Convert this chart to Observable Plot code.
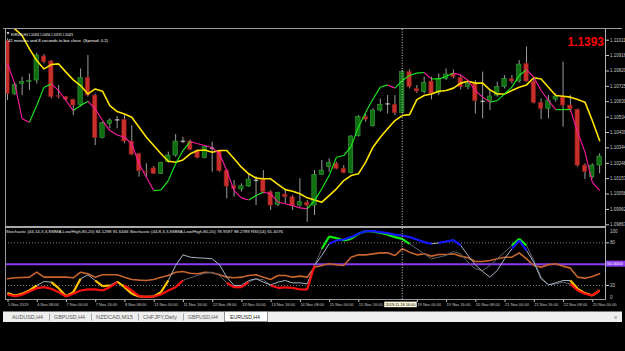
<!DOCTYPE html>
<html><head><meta charset="utf-8">
<script src="https://cdn.jsdelivr.net/npm/d3@7"></script>
<script src="https://cdn.jsdelivr.net/npm/@observablehq/plot@0.6"></script>
<style>
html,body{margin:0;padding:0;background:#000;}
#root{position:relative;width:625px;height:351px;background:#000;overflow:hidden;font-family:"Liberation Sans",Arial,sans-serif;}
#root svg{position:absolute;left:0;}
</style></head><body><div id="root"></div>
<script>
// ---------- data ----------
const opens=[1.11005,1.10678,1.10740,1.10753,1.10761,1.10910,1.10879,1.10664,1.10658,1.10641,1.10610,1.10778,1.10668,1.10406,1.10492,1.10515,1.10517,1.10383,1.10307,1.10195,1.10217,1.10183,1.10255,1.10296,1.10383,1.10383,1.10327,1.10282,1.10344,1.10323,1.10203,1.10106,1.10086,1.10104,1.10145,1.10147,1.10069,1.09990,1.10054,1.10038,1.09986,1.10003,1.09986,1.10176,1.10224,1.10245,1.10214,1.10187,1.10416,1.10534,1.10478,1.10575,1.10614,1.10610,1.10561,1.10813,1.10709,1.10689,1.10755,1.10683,1.10771,1.10802,1.10778,1.10720,1.10740,1.10635,1.10633,1.10668,1.10720,1.10769,1.10755,1.10864,1.10755,1.10623,1.10585,1.10643,1.10658,1.10606,1.10579,1.10234,1.10162,1.10234];
const highs=[1.11019,1.10745,1.10782,1.10802,1.10930,1.10922,1.10885,1.10730,1.10662,1.10647,1.10833,1.10916,1.10678,1.10503,1.10524,1.10538,1.10544,1.10482,1.10311,1.10245,1.10228,1.10255,1.10317,1.10426,1.10410,1.10393,1.10331,1.10352,1.10379,1.10327,1.10207,1.10141,1.10121,1.10183,1.10166,1.10203,1.10079,1.10069,1.10079,1.10048,1.10152,1.10017,1.10203,1.10265,1.10276,1.10255,1.10234,1.10420,1.10544,1.10550,1.10585,1.10647,1.10668,1.10668,1.10823,1.10827,1.10730,1.10782,1.10782,1.10802,1.10833,1.10827,1.10792,1.10761,1.10761,1.10813,1.10699,1.10751,1.10792,1.10792,1.10885,1.10968,1.10782,1.10647,1.10668,1.10678,1.10875,1.10668,1.10585,1.10245,1.10245,1.10307];
const lows=[1.10637,1.10668,1.10668,1.10699,1.10740,1.10864,1.10647,1.10647,1.10633,1.10544,1.10596,1.10658,1.10358,1.10400,1.10462,1.10462,1.10369,1.10296,1.10162,1.10162,1.10178,1.10178,1.10249,1.10286,1.10369,1.10327,1.10276,1.10276,1.10193,1.10193,1.10028,1.10038,1.10069,1.10100,1.09986,1.10059,1.09955,1.09980,1.09997,1.09955,1.09976,1.09883,1.09924,1.10172,1.10193,1.10207,1.10183,1.10183,1.10410,1.10503,1.10472,1.10565,1.10554,1.10544,1.10554,1.10709,1.10683,1.10678,1.10641,1.10668,1.10761,1.10771,1.10703,1.10703,1.10554,1.10524,1.10575,1.10658,1.10709,1.10740,1.10745,1.10751,1.10616,1.10519,1.10524,1.10627,1.10472,1.10565,1.10224,1.10147,1.10152,1.10183];
const closes=[1.10678,1.10734,1.10751,1.10757,1.10916,1.10875,1.10658,1.10660,1.10641,1.10606,1.10776,1.10668,1.10404,1.10497,1.10513,1.10517,1.10383,1.10302,1.10199,1.10191,1.10183,1.10249,1.10296,1.10383,1.10385,1.10331,1.10282,1.10348,1.10342,1.10199,1.10104,1.10090,1.10106,1.10147,1.10143,1.10069,1.09986,1.10065,1.10038,1.09982,1.10007,1.09986,1.10176,1.10203,1.10249,1.10214,1.10187,1.10414,1.10534,1.10519,1.10575,1.10610,1.10616,1.10559,1.10813,1.10720,1.10693,1.10747,1.10678,1.10771,1.10798,1.10782,1.10720,1.10740,1.10633,1.10633,1.10662,1.10720,1.10771,1.10755,1.10860,1.10755,1.10623,1.10585,1.10637,1.10662,1.10606,1.10581,1.10234,1.10193,1.10234,1.10290];
const maSlow=[1.11133,1.11081,1.11040,1.10957,1.10885,1.10833,1.10860,1.10864,1.10813,1.10765,1.10730,1.10678,1.10709,1.10695,1.10606,1.10569,1.10554,1.10534,1.10472,1.10410,1.10358,1.10307,1.10261,1.10255,1.10269,1.10307,1.10327,1.10331,1.10317,1.10327,1.10327,1.10276,1.10224,1.10183,1.10156,1.10152,1.10152,1.10117,1.10085,1.10075,1.10059,1.10034,1.10021,1.10007,1.10048,1.10090,1.10141,1.10172,1.10183,1.10255,1.10348,1.10410,1.10462,1.10513,1.10544,1.10550,1.10643,1.10668,1.10678,1.10695,1.10699,1.10714,1.10745,1.10757,1.10745,1.10745,1.10703,1.10678,1.10678,1.10699,1.10720,1.10734,1.10778,1.10771,1.10720,1.10668,1.10664,1.10658,1.10643,1.10627,1.10513,1.10389];
const maFast=[1.10864,1.10740,1.10524,1.10503,1.10606,1.10720,1.10740,1.10699,1.10637,1.10575,1.10606,1.10633,1.10585,1.10513,1.10451,1.10424,1.10410,1.10369,1.10245,1.10162,1.10079,1.10083,1.10141,1.10245,1.10327,1.10383,1.10369,1.10358,1.10344,1.10307,1.10203,1.10079,1.10034,1.10021,1.10048,1.10069,1.10059,1.10007,1.09997,1.09986,1.09972,1.09966,1.10017,1.10090,1.10172,1.10286,1.10296,1.10352,1.10472,1.10565,1.10647,1.10720,1.10734,1.10714,1.10761,1.10792,1.10807,1.10811,1.10771,1.10771,1.10786,1.10807,1.10796,1.10761,1.10699,1.10658,1.10627,1.10637,1.10678,1.10720,1.10792,1.10829,1.10782,1.10699,1.10637,1.10581,1.10581,1.10581,1.10441,1.10317,1.10131,1.10079];
const stoch1=[7.3,5.0,6.8,11.5,16.2,17.6,15.3,10.6,4.5,8.3,12.9,14.4,14.4,12.9,17.6,24.7,20.0,12.9,5.0,4.0,4.5,7.3,12.9,17.6,27.0,30.8,34.1,37.3,38.7,34.1,23.7,17.6,17.6,24.7,29.4,28.0,20.0,16.7,17.2,16.7,14.4,14.4,48.1,71.6,88.9,86.6,83.3,85.6,92.7,96.4,96.0,94.1,91.3,88.0,85.6,78.6,71.6,64.5,57.5,59.8,62.2,67.8,64.5,52.8,43.4,41.1,48.1,57.5,66.9,76.3,85.6,76.3,55.2,31.7,20.9,22.3,24.7,22.3,12.9,8.3,5.9,12.9];
const stoch2=[9.2,5.9,8.3,12.9,20.0,25.6,24.7,16.2,5.0,10.6,29.4,35.0,27.0,19.0,20.0,25.6,17.6,8.3,4.5,4.0,4.5,10.6,27.0,48.1,63.1,59.8,58.9,58.4,57.5,49.1,31.7,20.0,20.0,27.0,29.4,24.7,20.9,24.7,27.0,23.7,23.7,22.3,48.1,62.2,78.6,83.3,84.7,88.0,92.7,96.4,96.4,95.0,93.6,91.3,90.3,88.0,84.7,81.0,78.6,80.0,81.9,83.8,76.3,62.2,49.1,39.7,31.7,41.1,57.5,71.6,83.3,69.2,52.8,29.4,20.9,23.7,27.0,27.0,15.3,9.2,5.9,12.9];
const rsi=[29.4,30.8,31.2,31.7,38.7,31.7,31.7,31.7,31.7,30.8,38.7,36.4,31.7,35.0,35.0,35.0,31.7,28.4,27.5,27.0,28.4,31.7,34.1,38.7,39.7,37.3,36.4,38.7,37.8,35.0,31.7,30.8,31.7,34.1,35.0,31.7,28.4,34.1,34.1,31.7,33.1,31.7,45.8,48.1,50.5,49.1,48.1,59.8,63.1,63.1,64.5,65.9,65.9,62.2,71.6,66.9,63.1,64.5,61.3,63.6,63.6,64.5,61.3,58.9,53.7,53.7,55.2,57.5,59.8,59.8,65.9,57.5,48.1,45.8,49.1,50.5,47.2,44.4,31.7,30.3,32.6,36.4];
const priceTicks=[1.09867,1.09962,1.10058,1.10153,1.10248,1.10344,1.10439,1.10534,1.10630,1.10725,1.10820,1.10916,1.11011];
const levelTicks=[80,20];
const timeBars=[1,5,9,13,17,21,25,29,33,37,41,45,49,57,61,65,69,73,77,81];
const timeLabels=["5 Nov 2019","6 Nov 08:00","7 Nov 00:00","7 Nov 16:00","8 Nov 08:00","11 Nov 00:00","11 Nov 16:00","12 Nov 08:00","13 Nov 00:00","13 Nov 16:00","14 Nov 08:00","15 Nov 00:00","15 Nov 16:00","19 Nov 00:00","19 Nov 16:00","20 Nov 08:00","21 Nov 00:00","21 Nov 16:00","22 Nov 08:00","25 Nov 00:00"];
const cursorBar=55;
const cursorLabel="2019.11.18 16:00";
const tabs=["AUDUSD,H4","GBPUSD,H4","NZDCAD,M15","CHFJPY,Daily","GBPUSD,H4","EURUSD,H4"];
const titleLine1="EURUSD,H4  1.10434 1.10454 1.10370 1.10425";
const titleLine2="42 minutes and 8 seconds to bar close. (Spread: 0.2)";
const indHeader="Stochastic (44,14,3,3,SMMA,Low/High,80,20) 84.1298 91.6446  Stochastic (44,8,3,3,SMMA,Low/High,80,20) 78.9597 88.2789  RSI(14) 65.4076";
const bigPrice="1.1393";

// ---------- build ----------
const n=opens.length;
const bars=d3.range(n).map(k=>({i:k+1,o:opens[k],h:highs[k],l:lows[k],c:closes[k]}));
const bull=bars.filter(d=>d.c-d.o>0.00004), bear=bars.filter(d=>d.o-d.c>0.00004), doji=bars.filter(d=>Math.abs(d.c-d.o)<=0.00004);
const BW=0.3;
const slow=maSlow.map((v,k)=>({i:k+1,v}));
const segs=arr=>d3.range(arr.length-1).map(k=>({x1:k+1,x2:k+2,y1:arr[k],y2:arr[k+1]}));
const fastSegs=segs(maFast);
const xOpt={domain:[1,82],range:[7,599.1],axis:null};
const root=document.getElementById("root");
const crossStyle={stroke:"#cfcfcf",strokeWidth:1,strokeDasharray:"1,1.6"};

const main=Plot.plot({
  width:625,height:200,marginLeft:5,marginRight:20,marginTop:2,marginBottom:1,
  style:{background:"transparent",overflow:"visible",fontFamily:"Liberation Sans"},
  x:xOpt,
  y:{domain:[1.09867,1.11011],range:[197.3,12.7]},
  marks:[
    Plot.ruleX(bars,{x:"i",y1:"l",y2:"h",stroke:"#9c9c9c",strokeWidth:1,clip:true}),
    Plot.rect(bull,{x1:d=>d.i-BW,x2:d=>d.i+BW,y1:"o",y2:"c",fill:"#0f6e12",stroke:"#3aa03a",strokeWidth:0.6,clip:true}),
    Plot.rect(bear,{x1:d=>d.i-BW,x2:d=>d.i+BW,y1:"o",y2:"c",fill:"#c8302c",stroke:"#8a1a18",strokeWidth:0.6,clip:true}),
    Plot.link(doji,{x1:d=>d.i-BW,x2:d=>d.i+BW,y1:"c",y2:"c",stroke:"#e0e0e0",strokeWidth:1,clip:true}),
    Plot.line(slow,{x:"i",y:"v",stroke:"#ffe400",strokeWidth:1.6,clip:true}),
    Plot.link(fastSegs.filter(d=>d.y2>=d.y1),{x1:"x1",x2:"x2",y1:"y1",y2:"y2",stroke:"#19f019",strokeWidth:1.1,clip:true}),
    Plot.link(fastSegs.filter(d=>d.y2<d.y1),{x1:"x1",x2:"x2",y1:"y1",y2:"y2",stroke:"#ff1aa3",strokeWidth:1.1,clip:true}),
    Plot.ruleX([cursorBar],{...crossStyle}),
    Plot.axisY(priceTicks,{anchor:"right",tickSize:3,tickPadding:1.5,fontSize:4.5,color:"#c8c8c8",tickFormat:d=>d.toFixed(5)})
  ]
});
main.style.top="27px";
root.appendChild(main);

const s1Hi=segs(stoch1).filter(d=>d.y1>80||d.y2>80);
const s1Lo=segs(stoch1).filter(d=>d.y1<20||d.y2<20);
const s2Hi=segs(stoch2).filter(d=>d.y1>80||d.y2>80);
const s2Lo=segs(stoch2).filter(d=>d.y1<20||d.y2<20);
const toPts=arr=>arr.map((v,k)=>({i:k+1,v}));
const lk=(data,stroke,w)=>Plot.link(data,{x1:"x1",x2:"x2",y1:"y1",y2:"y2",stroke,strokeWidth:w,clip:true});

const ind=Plot.plot({
  width:625,height:84,marginLeft:5,marginRight:20,marginTop:0,marginBottom:12,
  style:{background:"transparent",overflow:"visible",fontFamily:"Liberation Sans"},
  x:xOpt,
  y:{domain:[0,100],range:[71.2,0.1]},
  marks:[
    Plot.ruleY([80,20],{stroke:"#7a7a7a",strokeDasharray:"1,2"}),
    Plot.ruleY([50],{stroke:"#8a3cf0",strokeWidth:2}),
    Plot.line(toPts(rsi),{x:"i",y:"v",stroke:"#c8642e",strokeWidth:1.6,clip:true}),
    Plot.line(toPts(stoch1),{x:"i",y:"v",stroke:"#5d626b",strokeWidth:1,clip:true}),
    Plot.line(toPts(stoch2),{x:"i",y:"v",stroke:"#a9b5c5",strokeWidth:1,clip:true}),
    lk(s2Lo,"#ffc400",2.2),
    lk(s1Lo,"#ff1010",2.2),
    lk(s1Hi,"#10f010",2.2),
    lk(s2Hi,"#1414ff",2.2),
    Plot.ruleX([cursorBar],{...crossStyle}),
    Plot.axisY(levelTicks,{anchor:"right",tickSize:3,tickPadding:1.5,fontSize:4.5,color:"#c8c8c8"}),
    Plot.text([100],{y:d=>d,text:d=>String(d),frameAnchor:"right",dx:4.5,dy:2.8,textAnchor:"start",fontSize:4.5,fill:"#c8c8c8"}),
    Plot.text([0],{y:d=>d,text:d=>String(d),frameAnchor:"right",dx:4.5,dy:-2.5,textAnchor:"start",fontSize:4.5,fill:"#c8c8c8"}),
    Plot.axisX(timeBars,{anchor:"bottom",tickSize:2,tickPadding:0.5,fontSize:4,color:"#c8c8c8",textAnchor:"start",dx:0.5,tickFormat:d=>timeLabels[timeBars.indexOf(d)]})
  ]
});
ind.style.top="228px";
root.appendChild(ind);

// ---------- chrome overlay ----------
const xs=main.scale("x"), iy=ind.scale("y");
const svg=d3.select(root).append("svg").attr("width",625).attr("height",351).style("top","0px")
  .style("font-family","Liberation Sans, Arial, sans-serif");
const line=(x1,y1,x2,y2,c,w)=>svg.append("line").attr("x1",x1).attr("y1",y1).attr("x2",x2).attr("y2",y2).attr("stroke",c).attr("stroke-width",w||1);
const txt=(s,x,y,size,fill,len,weight,anchor)=>{const t=svg.append("text").attr("x",x).attr("y",y).attr("font-size",size).attr("fill",fill).text(s);
  if(len){t.attr("textLength",len).attr("lengthAdjust","spacingAndGlyphs");}
  if(weight)t.attr("font-weight",weight); if(anchor)t.attr("text-anchor",anchor); return t;};
line(3,28.5,622,28.5,"#9a9a9a",1);
line(5.5,28,5.5,300,"#9a9a9a",1);
line(605.5,28,605.5,300,"#b0b0b0",1);
line(5,227,606,227,"#a8a8a8",2);
line(5,299.5,606,299.5,"#9a9a9a",1);
// title
svg.append("path").attr("d","M6.5,32.2 L9.5,32.2 L8,34.6 Z").attr("fill","#ffffff");
txt(titleLine1,11,35.6,4.4,"#ffffff",62);
txt(titleLine2,8,42.4,4.4,"#ffffff",100);
txt(bigPrice,567.5,45.5,12.5,"#ff0000",36.5,"bold");
txt(indHeader,6,233,4.3,"#e8e8e8",277);
// 50 level box on axis
const y50=228+iy.apply(50);
svg.append("rect").attr("x",606).attr("y",y50-3).attr("width",19).attr("height",6).attr("fill","#8a3cf0");
txt("50.0000",607,y50+1.6,4.4,"#ffffff",16);
// cursor time label
const cx=xs.apply(cursorBar);
svg.append("rect").attr("x",cx-17.5).attr("y",301.6).attr("width",32.5).attr("height",5.6).attr("fill","#fbf8dc");
txt(cursorLabel,cx-1.3,305.9,4.3,"#000000",30,null,"middle");
// tab strip
svg.append("rect").attr("x",3).attr("y",311.5).attr("width",619).attr("height",10.5).attr("fill","#efefef");
const tabX=[[12,31],[54,31],[96,37],[143,34],[188,30],[230,30]];
const sepX=[49,91,138,183];
sepX.forEach(x=>line(x+0.5,313.5,x+0.5,320.5,"#a8a8a8",1));
svg.append("rect").attr("x",224.5).attr("y",311.5).attr("width",43).attr("height",10).attr("fill","#ffffff").attr("stroke","#7a7a7a").attr("stroke-width",0.8);
tabs.forEach((t,k)=>txt(t,tabX[k][0],319,5.8,k===5?"#202020":"#5a5a5a",tabX[k][1]));
txt("≡",614,319,5.5,"#909090");
</script></body></html>
